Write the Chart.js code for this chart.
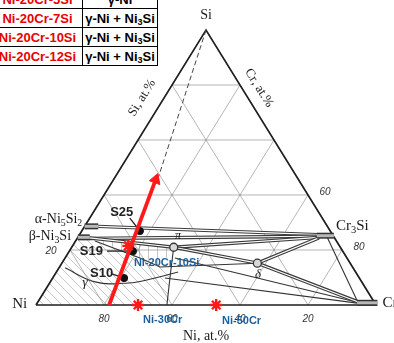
<!DOCTYPE html>
<html>
<head>
<meta charset="utf-8">
<script src="https://cdn.jsdelivr.net/npm/chart.js@4"></script>
<style>
  html, body { margin: 0; padding: 0; background: #fff; }
  #wrap { position: relative; width: 394px; height: 343px; overflow: hidden; }
  #c { position: absolute; left: 0; top: 0; }
  table.phases { position: absolute; left: -8px; top: -11px; border-collapse: collapse; background: #fff;
    font: bold 13px "Liberation Sans", Arial, sans-serif; z-index: 2; }
  table.phases td { border: 1.5px solid #000; height: 18px; padding: 0; text-align: center; line-height: 17px; white-space: nowrap; }
  td.alloy { color: #e80000; width: 89px; }
  td.phase { color: #000; width: 74px; }
  sub { font-size: 9px; line-height: 0; vertical-align: -2px; }
</style>
</head>
<body>
<div id="wrap">
  <canvas id="c" width="394" height="343"></canvas>
  <table class="phases" id="tbl"></table>
</div>
<script>
// table at the top left
const alloys = ['Ni-20Cr-5Si', 'Ni-20Cr-7Si', 'Ni-20Cr-10Si', 'Ni-20Cr-12Si'];
const phases = ['γ-Ni', 'γ-Ni + Ni<sub>3</sub>Si', 'γ-Ni + Ni<sub>3</sub>Si', 'γ-Ni + Ni<sub>3</sub>Si'];

// ternary grid + tick values (at.%)
const gridLevels = [20, 40, 60, 80];
const niTicks = [80, 60, 40, 20];
const crTicks = [60, 80];
const siTicks = [20];

// every composition below is [Cr at.%, Si at.%], Ni is the balance
const alphaBox = [[0, 28.6], [4, 28.6]];
const betaBox = [[0, 24.6], [3.5, 24.6]];
const cr3siBox = [[70, 25.2], [75, 25.2]];
const crBox = [[94, 0.8], [100, 0.8]];
const piPhase = [30, 21];
const deltaPhase = [57.5, 15.2];

// two-phase boundaries drawn as double lines
const bandAlphaCr3Si = [[4, 28.6], [70, 25.6]];
const bandBetaCr3Si = [[3.5, 24.2], [70, 25.0]];
const bandBetaPi = [[3.5, 24.4], [30, 21]];
const bandPiCr3Si = [[30, 21], [71, 24.6]];
const bandPiDelta = [[30, 21], [57.5, 15.2]];
const bandDeltaCr3Si = [[57.5, 15.2], [71, 24.4]];
const bandDeltaCr = [[57.5, 15.2], [94, 1.2]];

// single boundaries
const lineToDelta = [[5.7, 23.3], [22, 17.1], [29.6, 13.8], [57.5, 15.2]];
const lineUpperCr = [[32.3, 17.1], [94, 1.0]];
const lineLowerCr = [[33, 9.8], [96, 0.4]];
const lineCr3SiCr = [[73, 25], [94, 1.2]];
const linePiBase = [[30, 21], [34, 11], [38.5, 0]];
const gammaArc = [[1.8, 13.5], [13.2, 8.4], [23.1, 8.0], [30.1, 9.8], [35.8, 12]];
const dashedLine = [[0, 100], [13, 45.5]];

// hatched two-phase fields
const hatchLower = [[0, 0], [38.5, 0], [34, 11], [29.6, 13.8], [22, 17.1], [5.7, 23.3], [0, 24.6], [0, 0]];
const hatchUpper = [[3.5, 24.4], [30, 21], [29.6, 13.8], [22, 17.1], [5.7, 23.3], [3.5, 24.4]];

// samples and markers
const sampleNames = ['S25', 'S19', 'S10'];
const samples = [[17.1, 26.9], [18.7, 19.6], [21, 9.8]];
const sampleLeaders = [[[11.8, 31.6], [17.1, 26.9]], [[11.1, 19.6], [18.7, 19.6]], [[16.7, 11.3], [21, 9.8]]];
const arrowPath = [[21.5, 0], [12.4, 45.6]];
const starNames = ['Ni-20Cr-10Si', 'Ni-30Cr', 'Ni-50Cr'];
const stars = [[16.4, 21.5], [30, 0], [53, 0]];

// ---- table
document.getElementById('tbl').innerHTML = alloys.map((a, i) =>
  `<tr><td class="alloy">${a}</td><td class="phase">${phases[i]}</td></tr>`).join('');

// ternary -> cartesian (x across the base, y = Si height)
const P = ([cr, si]) => ({ x: cr + si / 2, y: si });

function hatch(kind) {
  const s = 9;
  const c = document.createElement('canvas');
  c.width = s; c.height = s;
  const g = c.getContext('2d');
  g.strokeStyle = 'rgba(80,80,80,0.4)';
  g.lineWidth = 0.8;
  g.beginPath();
  if (kind === 'v') { g.moveTo(s / 2, 0); g.lineTo(s / 2, s); }
  else { g.moveTo(-1, -1); g.lineTo(s + 1, s + 1); g.moveTo(-1, s - 1); g.lineTo(1, s + 1); g.moveTo(s - 1, -1); g.lineTo(s + 1, 1); }
  g.stroke();
  return g.createPattern(c, 'repeat');
}

const paint = [];
function line(pts, color, width, extra) {
  paint.push(Object.assign({ type: 'scatter', data: pts.map(P), showLine: true, borderColor: color,
    borderWidth: width, pointRadius: 0, fill: false }, extra || {}));
}
function band(pts) {
  line(pts, '#3a3a3a', 3.4);
  line(pts, '#ffffff', 1.2);
}
function box(pts) {
  line(pts, '#333', 6);
  line(pts, '#b8b8b8', 3);
}

line(hatchLower, 'rgba(0,0,0,0)', 0, { fill: 'shape', backgroundColor: hatch('d') });
line(hatchUpper, 'rgba(0,0,0,0)', 0, { fill: 'shape', backgroundColor: hatch('v') });

// grid
const gridColor = 'rgba(110,110,110,0.5)';
gridLevels.forEach(v => {
  line([[0, v], [100 - v, v]], gridColor, 1);
  line([[v, 0], [v, 100 - v]], gridColor, 1);
  line([[100 - v, 0], [0, 100 - v]], gridColor, 1);
});
// frame
line([[0, 0], [100, 0], [0, 100], [0, 0]], '#1e1e1e', 1.7);
line(dashedLine, '#444', 1, { borderDash: [5, 3] });

[lineToDelta, lineUpperCr, lineLowerCr, lineCr3SiCr, linePiBase].forEach(l => line(l, '#333', 1.1));
line(gammaArc, '#333', 1.1, { tension: 0.4 });
[bandAlphaCr3Si, bandBetaCr3Si, bandBetaPi, bandPiCr3Si, bandPiDelta, bandDeltaCr3Si, bandDeltaCr].forEach(band);
[alphaBox, betaBox, cr3siBox, crBox].forEach(box);
sampleLeaders.forEach(l => line(l, '#222', 1.3));

paint.push({ type: 'scatter', data: [piPhase, deltaPhase].map(P), pointRadius: 4, pointBackgroundColor: '#d8d8d8',
  pointBorderColor: '#333', pointBorderWidth: 1.3 });
paint.push({ type: 'scatter', data: samples.map(P), pointRadius: 3.6, pointBackgroundColor: '#111',
  pointBorderColor: '#111' });
// red arrow
line(arrowPath, '#ff1a1a', 3.8);
paint.push({ type: 'scatter', data: [P(arrowPath[1])], pointStyle: 'triangle', pointRadius: 6.5, rotation: 20,
  pointBackgroundColor: '#ff1a1a', pointBorderColor: '#ff1a1a' });
paint.push({ type: 'scatter', data: stars.map(P), pointStyle: 'star', pointRadius: 6, borderWidth: 2.4,
  pointBorderColor: '#ff1a1a', pointBorderWidth: 2.4 });

paint.forEach((d, i) => { d.order = paint.length - i; });

// labels, placed in plot units
const serif = '"Liberation Serif", "DejaVu Serif", serif';
const sans = '"Liberation Sans", Arial, sans-serif';
const texts = [
  { t: 'Si', x: 50, y: 105.3, font: '14px ' + serif, align: 'center' },
  { t: 'Ni', x: -2.6, y: 0.2, font: '15px ' + serif, align: 'right' },
  { t: 'Cr', x: 101.9, y: 0.8, font: '15px ' + serif, align: 'left' },
  { t: 'Cr_3Si', x: 88.2, y: 28.7, font: '15px ' + serif, align: 'left' },
  { t: 'α-Ni_5Si_2', x: 13.6, y: 31.2, font: '14px ' + serif, align: 'right' },
  { t: 'β-Ni_3Si', x: 10.3, y: 25.0, font: '14px ' + serif, align: 'right' },
  { t: 'π', x: 41.8, y: 25.2, font: 'italic 12px ' + serif, align: 'center' },
  { t: 'δ', x: 65.3, y: 11.2, font: 'italic 13px ' + serif, align: 'center' },
  { t: 'γ', x: 14.4, y: 8, font: 'italic 13px ' + serif, align: 'center' },
  { t: 'Ni, at.%', x: 50, y: -11.3, font: '14px ' + serif, align: 'center' },
  { t: 'Si, at.%', x: 31.2, y: 75.3, font: '13px ' + serif, align: 'center', rot: -58 },
  { t: 'Cr, at.%', x: 65.6, y: 78.9, font: '13px ' + serif, align: 'center', rot: 58 },
  { t: sampleNames[0], x: 21.8, y: 33.8, font: 'bold 13px ' + sans, align: 'left', color: '#222' },
  { t: sampleNames[1], x: 12.9, y: 19.6, font: 'bold 13px ' + sans, align: 'left', color: '#222' },
  { t: sampleNames[2], x: 15.9, y: 11.3, font: 'bold 13px ' + sans, align: 'left', color: '#222' },
  { t: starNames[0], x: 28.8, y: 15.3, font: 'bold 11px ' + sans, align: 'left', color: '#1d5f9c' },
  { t: starNames[1], x: 31.5, y: -5.5, font: 'bold 11px ' + sans, align: 'left', color: '#1d5f9c' },
  { t: starNames[2], x: 54.7, y: -5.8, font: 'bold 11px ' + sans, align: 'left', color: '#1d5f9c' }
];

function richText(ctx, str, x, y, font, align) {
  // "_" makes the next character a subscript
  const parts = [];
  for (let i = 0; i < str.length; i++) {
    if (str[i] === '_') { parts.push([str[i + 1], true]); i++; } else parts.push([str[i], false]);
  }
  const size = parseFloat(font.match(/(\d+(\.\d+)?)px/)[1]);
  const subFont = font.replace(/\d+(\.\d+)?px/, (size * 0.7).toFixed(1) + 'px');
  let w = 0;
  parts.forEach(p => { ctx.font = p[1] ? subFont : font; w += ctx.measureText(p[0]).width; });
  let cx = align === 'center' ? x - w / 2 : align === 'right' ? x - w : x;
  ctx.textAlign = 'left';
  parts.forEach(p => {
    ctx.font = p[1] ? subFont : font;
    ctx.fillText(p[0], cx, p[1] ? y + size * 0.3 : y);
    cx += ctx.measureText(p[0]).width;
  });
}

const labelPlugin = {
  id: 'ternaryLabels',
  afterDatasetsDraw(chart) {
    const { ctx, scales: { x: sx, y: sy } } = chart;
    ctx.save();
    ctx.textBaseline = 'middle';
    const px = ([cr, si]) => { const p = P([cr, si]); return [sx.getPixelForValue(p.x), sy.getPixelForValue(p.y)]; };
    // tick numbers
    ctx.fillStyle = '#333';
    ctx.font = 'italic 10px ' + sans;
    ctx.textAlign = 'center';
    niTicks.forEach(v => { const [a, b] = px([100 - v, 0]); ctx.fillText(String(v), a, b + 14); });
    crTicks.forEach(v => { const [a, b] = px([v, 100 - v]); ctx.fillText(String(v), a + 17, b - 3); });
    siTicks.forEach(v => { const [a, b] = px([0, v]); ctx.fillText(String(v), a - 19, b + 1); });
    texts.forEach(l => {
      ctx.fillStyle = l.color || '#1a1a1a';
      const a = sx.getPixelForValue(l.x), b = sy.getPixelForValue(l.y);
      if (l.rot) {
        ctx.save();
        ctx.translate(a, b);
        ctx.rotate(l.rot * Math.PI / 180);
        richText(ctx, l.t, 0, 0, l.font, l.align);
        ctx.restore();
      } else {
        richText(ctx, l.t, a, b, l.font, l.align);
      }
    });
    ctx.restore();
  }
};

new Chart(document.getElementById('c'), {
  type: 'scatter',
  data: { datasets: paint },
  options: {
    responsive: false,
    animation: false,
    events: [],
    layout: { padding: 0, autoPadding: false },
    plugins: { legend: { display: false }, tooltip: { enabled: false } },
    scales: {
      x: { type: 'linear', min: -10.59, max: 105.29, display: false },
      y: { type: 'linear', min: -13.82, max: 110.91, display: false }
    }
  },
  plugins: [labelPlugin]
});
</script>
</body>
</html>
